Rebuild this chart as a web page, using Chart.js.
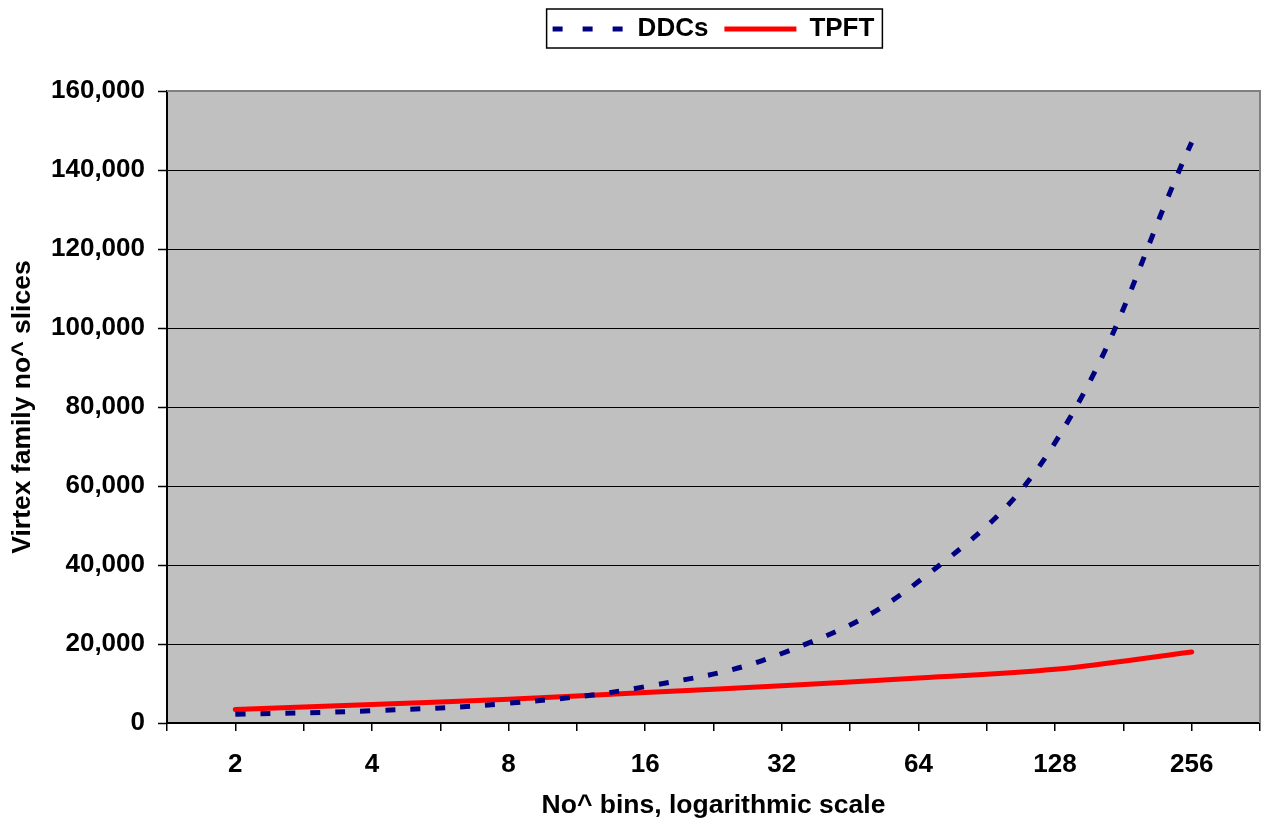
<!DOCTYPE html>
<html>
<head>
<meta charset="utf-8">
<script src="https://cdn.jsdelivr.net/npm/chart.js@4.4.1/dist/chart.umd.min.js"></script>
<style>
  html, body { margin: 0; padding: 0; background: #fff; }
  #wrap { width: 1261px; height: 822px; }
</style>
</head>
<body>
<div id="wrap"><canvas id="grafico"></canvas></div>
<script>
// values
const bins = [2, 4, 8, 16, 32, 64, 128, 256];
const ddcs = [2200, 3100, 5000, 9200, 17600, 35800, 71000, 147000];
const tpft = [3400, 4700, 6000, 7700, 9400, 11400, 13600, 18000];
const yTicks = [0, 20000, 40000, 60000, 80000, 100000, 120000, 140000, 160000];

Chart.defaults.font.family = '"Liberation Sans", Arial, sans-serif';
Chart.defaults.font.size = 26;
Chart.defaults.font.weight = 'bold';
Chart.defaults.color = '#000';

// tick marks every half step of log2, labels only on the bins
const halfSteps = [];
for (let k = 1; k <= 17; k++) halfSteps.push(Math.pow(2, k / 2));

const plotBg = {
  id: 'plotBg',
  beforeDraw(chart) {
    const { ctx, chartArea: a } = chart;
    ctx.save();
    ctx.fillStyle = '#c0c0c0';
    ctx.fillRect(a.left, a.top, a.right - a.left, a.bottom - a.top);
    ctx.restore();
  },
  beforeDatasetsDraw(chart) {
    const { ctx, chartArea: a } = chart;
    ctx.save();
    ctx.strokeStyle = '#808080';
    ctx.lineWidth = 2;
    ctx.beginPath();
    ctx.moveTo(a.left, a.top);
    ctx.lineTo(a.right, a.top);
    ctx.lineTo(a.right, a.bottom);
    ctx.stroke();
    ctx.restore();
  }
};

const legendBox = {
  id: 'legendBox',
  beforeInit(chart) {
    const fit = chart.legend.fit;
    chart.legend.fit = function () {
      fit.bind(chart.legend)();
      this.height += 39;
    };
  },
  afterDraw(chart) {
    const hb = chart.legend.legendHitBoxes;
    if (!hb || !hb.length) return;
    const first = hb[0], last = hb[hb.length - 1];
    const cy = first.top + first.height / 2;
    const ctx = chart.ctx;
    ctx.save();
    ctx.strokeStyle = '#000';
    ctx.lineWidth = 1.5;
    ctx.strokeRect(first.left - 6, cy - 20, last.left + last.width + 8 - (first.left - 6), 39);
    ctx.restore();
  }
};

new Chart(document.getElementById('grafico'), {
  type: 'line',
  data: {
    datasets: [{
      label: 'DDCs',
      data: bins.map((b, i) => ({ x: b, y: ddcs[i] })),
      borderColor: '#000080',
      backgroundColor: '#000080',
      borderWidth: 5,
      borderDash: [10, 15],
      borderCapStyle: 'butt',
      pointRadius: 0,
      tension: 0.4,
      fill: false
    }, {
      label: 'TPFT',
      data: bins.map((b, i) => ({ x: b, y: tpft[i] })),
      borderColor: '#ff0000',
      backgroundColor: '#ff0000',
      borderWidth: 5,
      borderCapStyle: 'round',
      pointRadius: 0,
      tension: 0.4,
      fill: false
    }]
  },
  options: {
    responsive: true,
    maintainAspectRatio: false,
    animation: false,
    layout: { padding: { left: 0, right: 1, top: 0, bottom: 0 } },
    plugins: {
      tooltip: { enabled: false },
      legend: {
        position: 'top',
        fullSize: false,
        labels: {
          usePointStyle: true,
          pointStyle: 'line',
          pointStyleWidth: 72,
          padding: 16,
          color: '#000',
          font: { size: 26, weight: 'bold' },
          generateLabels(chart) {
            const items = Chart.defaults.plugins.legend.labels.generateLabels(chart);
            items.forEach(it => { it.pointStyle = 'line'; });
            items[0].lineDash = [10, 20];
            return items;
          }
        }
      }
    },
    scales: {
      x: {
        type: 'logarithmic',
        min: Math.SQRT2,
        max: 256 * Math.SQRT2,
        afterBuildTicks(scale) {
          scale.ticks = halfSteps.map(v => ({ value: v }));
        },
        afterFit(scale) {
          scale.height = 99;
          scale.paddingLeft = 0;
          scale.paddingRight = 0;
        },
        ticks: {
          autoSkip: false,
          maxRotation: 0,
          padding: 18,
          callback: (v) => bins.includes(v) ? String(v) : ''
        },
        grid: {
          drawOnChartArea: false,
          drawTicks: true,
          tickLength: 8,
          color: '#000',
          lineWidth: 1.5
        },
        border: { display: true, color: '#000', width: 2 },
        title: {
          display: true,
          text: 'No^ bins, logarithmic scale',
          padding: { top: 0, bottom: 0 },
          font: { size: 26.5, weight: 'bold' }
        }
      },
      y: {
        min: 0,
        max: 160000,
        afterBuildTicks(scale) {
          scale.ticks = yTicks.map(v => ({ value: v }));
        },
        afterFit(scale) { scale.width = 167; },
        ticks: {
          padding: 13,
          callback: (v) => v.toLocaleString('en-US')
        },
        grid: {
          color: '#000',
          lineWidth: 1,
          tickLength: 9,
          tickColor: '#000',
          tickWidth: 1.5
        },
        border: { display: true, color: '#000', width: 2 },
        title: {
          display: true,
          text: 'Virtex family no^ slices',
          padding: { top: 7, bottom: 0 },
          font: { size: 26.5, weight: 'bold' }
        }
      }
    }
  },
  plugins: [plotBg, legendBox]
});
</script>
</body>
</html>
